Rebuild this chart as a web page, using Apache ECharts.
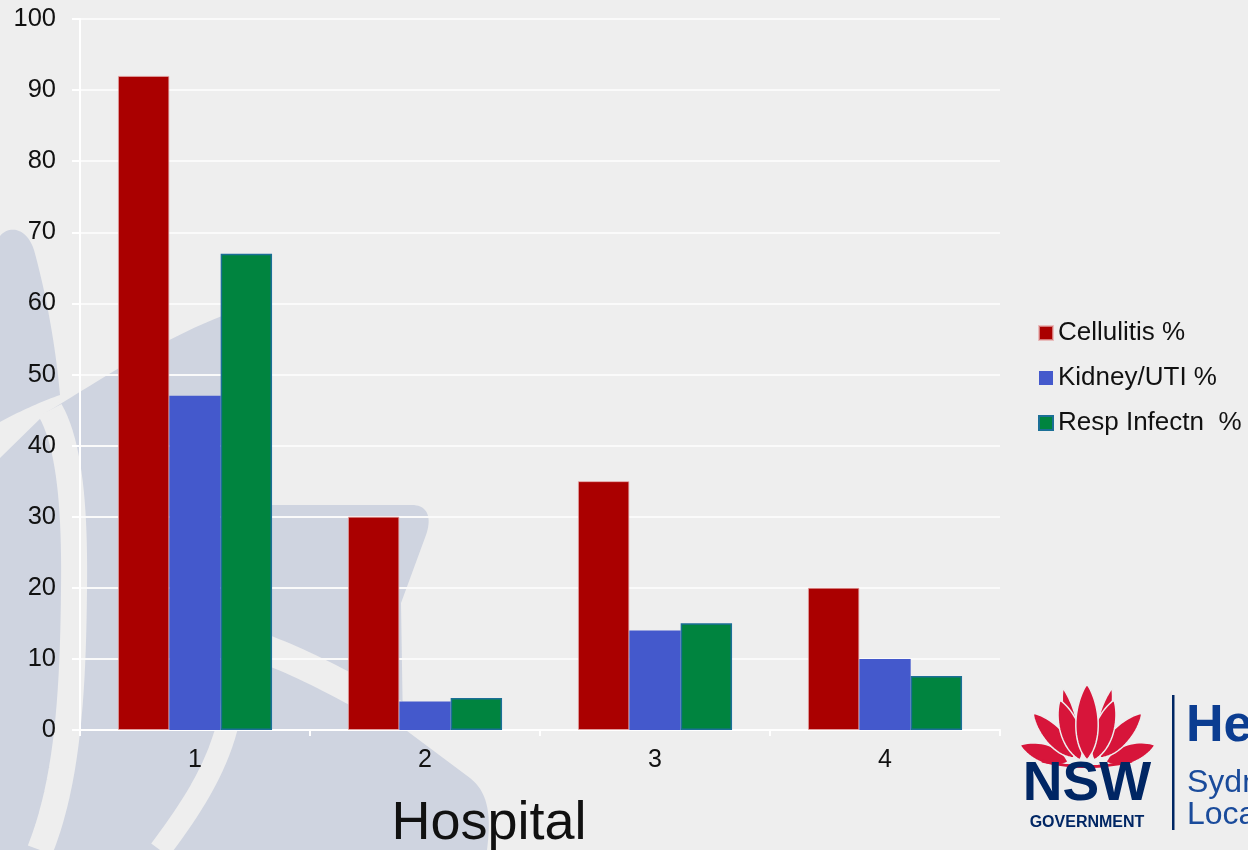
<!DOCTYPE html>
<html>
<head>
<meta charset="utf-8">
<title>Hospital admissions by infection type</title>
<script src="https://cdn.jsdelivr.net/npm/echarts@6/dist/echarts.min.js"></script>
<style>
  html, body { margin: 0; padding: 0; background: #eeeeee; }
  #chart { width: 1248px; height: 850px; }
</style>
</head>
<body>
<div id="chart"></div>
<script>
// Hospitals on the category axis
const hospitals = ['1', '2', '3', '4'];

// Share of admissions per infection type (%)
const cellulitisPct = [92, 30, 35, 20];
const kidneyUtiPct = [47, 4, 14, 10];
const respInfectnPct = [67, 4.5, 15, 7.6];

const seriesNames = ['Cellulitis %', 'Kidney/UTI %', 'Resp Infectn  %'];

const FONT = '"Liberation Sans", Arial, sans-serif';
const BG = '#eeeeee';
const WASH = '#cfd4e0';
const RED = '#d7153a';
const NAVY = '#002664';

// Turn a small SVG-like outline (M, L, Q, C, Z) into a list of points
function outline(d) {
  const tok = d.match(/[MLQCZ]|-?\d*\.?\d+/g);
  const pts = [];
  let i = 0, cmd = null, cx = 0, cy = 0;
  const num = () => parseFloat(tok[i++]);
  while (i < tok.length) {
    if (/[MLQCZ]/.test(tok[i])) cmd = tok[i++];
    if (cmd === 'Z') continue;
    if (cmd === 'M' || cmd === 'L') {
      cx = num(); cy = num(); pts.push([cx, cy]);
    } else if (cmd === 'Q') {
      const x1 = num(), y1 = num(), x = num(), y = num();
      for (let k = 1; k <= 16; k++) {
        const t = k / 16, u = 1 - t;
        pts.push([u * u * cx + 2 * u * t * x1 + t * t * x, u * u * cy + 2 * u * t * y1 + t * t * y]);
      }
      cx = x; cy = y;
    } else if (cmd === 'C') {
      const x1 = num(), y1 = num(), x2 = num(), y2 = num(), x = num(), y = num();
      for (let k = 1; k <= 20; k++) {
        const t = k / 20, u = 1 - t;
        pts.push([
          u * u * u * cx + 3 * u * u * t * x1 + 3 * u * t * t * x2 + t * t * t * x,
          u * u * u * cy + 3 * u * u * t * y1 + 3 * u * t * t * y2 + t * t * t * y
        ]);
      }
      cx = x; cy = y;
    }
  }
  return pts;
}

function fillShape(d, fill, z, stroke, lw) {
  return { type: 'polygon', z: z, silent: true, shape: { points: outline(d) },
    style: { fill: fill, stroke: stroke || null, lineWidth: lw || 0 } };
}
function strokeShape(d, color, lw, z) {
  return { type: 'polyline', z: z, silent: true, shape: { points: outline(d) },
    style: { fill: null, stroke: color, lineWidth: lw, lineCap: 'butt', lineJoin: 'round' } };
}

// Pointed petal outline between a base point and a tip
function petal(bx, by, tx, ty, w) {
  const dx = tx - bx, dy = ty - by;
  const len = Math.hypot(dx, dy);
  const nx = -dy / len, ny = dx / len;
  const p = (t, s) => (bx + dx * t + nx * s).toFixed(1) + ',' + (by + dy * t + ny * s).toFixed(1);
  return 'M' + bx + ',' + by +
    ' C' + p(0.25, w) + ' ' + p(0.75, w * 0.75) + ' ' + tx + ',' + ty +
    ' C' + p(0.75, -w * 0.75) + ' ' + p(0.25, -w) + ' ' + bx + ',' + by + ' Z';
}

// Soft background motif
const washShapes = [
  fillShape('M0,236 C8,226 26,226 34,250 C45,290 55,340 60,395 C40,402 18,412 0,422 Z', WASH, -20),
  fillShape('M0,458 L47,412 C100,380 160,340 222,316 L272,316 L272,505 L412,505 C428,505 432,518 426,535 L401,603 L403,728 L470,778 C492,795 490,825 487,850 L0,850 Z', WASH, -20),
  strokeShape('M50,410 C70,445 75,510 74,590 C73,690 68,780 40,850', BG, 26, -19),
  strokeShape('M232,700 C225,760 190,810 160,850', BG, 22, -19),
  strokeShape('M262,648 C300,662 340,682 402,718', BG, 29, -19)
];

// NSW Government / Health logo block
const petals = [
  [1068, 762, 1020, 745, 14],
  [1106, 762, 1155, 745, 14],
  [1074, 758, 1033, 713, 14],
  [1100, 758, 1142, 713, 14],
  [1078, 752, 1063, 688, 9],
  [1096, 752, 1112, 688, 9],
  [1080, 760, 1060, 700, 15],
  [1094, 760, 1114, 700, 15],
  [1087, 760, 1087, 684, 17]
];
const logo = petals.map(a => fillShape(petal(a[0], a[1], a[2], a[3], a[4]), RED, 50, BG, 1.5));
logo.push(
  strokeShape('M1042,761 Q1087,772 1132,761', RED, 3, 50),
  { type: 'text', z: 50, silent: true, x: 1087, y: 812,
    style: { text: 'NSW', font: 'bold 55px ' + FONT, fill: NAVY, align: 'center', verticalAlign: 'bottom' } },
  { type: 'text', z: 50, silent: true, x: 1087, y: 823,
    style: { text: 'GOVERNMENT', font: 'bold 16px ' + FONT, fill: NAVY, align: 'center', verticalAlign: 'middle' } },
  { type: 'rect', z: 50, silent: true,
    shape: { x: 1172, y: 695, width: 2.5, height: 135 },
    style: { fill: NAVY } },
  { type: 'text', z: 50, silent: true, x: 1186, y: 727,
    style: { text: 'Health', font: 'bold 52px ' + FONT, fill: '#0b3d91', align: 'left', verticalAlign: 'middle' } },
  { type: 'text', z: 50, silent: true, x: 1187, y: 783,
    style: { text: 'Sydney', font: '32px ' + FONT, fill: '#1a4b9b', align: 'left', verticalAlign: 'middle' } },
  { type: 'text', z: 50, silent: true, x: 1187, y: 815,
    style: { text: 'Local Health District', font: '32px ' + FONT, fill: '#1a4b9b', align: 'left', verticalAlign: 'middle' } }
);

const axisTitle = {
  type: 'text', z: 50, silent: true, x: 489, y: 824,
  style: { text: 'Hospital', font: '54px ' + FONT, fill: '#111111', align: 'center', verticalAlign: 'middle' }
};

const chart = echarts.init(document.getElementById('chart'), null, { renderer: 'canvas' });

chart.setOption({
  animation: false,
  backgroundColor: BG,
  textStyle: { fontFamily: FONT },
  grid: { left: 80, right: 248, top: 19, bottom: 120, containLabel: false },
  legend: {
    orient: 'vertical',
    left: 1033,
    top: 315,
    itemWidth: 14,
    itemHeight: 14,
    itemGap: 19,
    icon: 'rect',
    textStyle: { fontSize: 26, color: '#111111', fontFamily: FONT },
    data: seriesNames
  },
  xAxis: {
    type: 'category',
    data: hospitals,
    boundaryGap: true,
    axisLine: { show: true, lineStyle: { color: '#ffffff', width: 2 } },
    axisTick: { show: true, length: 6, lineStyle: { color: '#ffffff', width: 2 } },
    axisLabel: { fontSize: 25, color: '#111111', margin: 18, fontFamily: FONT },
    splitLine: { show: false }
  },
  yAxis: {
    type: 'value',
    min: 0,
    max: 100,
    interval: 10,
    axisLine: { show: true, lineStyle: { color: '#ffffff', width: 2 } },
    axisTick: { show: true, length: 8, lineStyle: { color: '#ffffff', width: 2 } },
    axisLabel: { fontSize: 25.5, color: '#111111', margin: 24, fontFamily: FONT, padding: [4, 0, 0, 0] },
    splitLine: { show: true, lineStyle: { color: '#fafafa', width: 2 } }
  },
  series: [
    { name: seriesNames[0], type: 'bar', data: cellulitisPct,
      barGap: '0%', barCategoryGap: '33%',
      itemStyle: { color: '#aa0000', borderColor: 'rgba(230,170,170,0.7)', borderWidth: 1 } },
    { name: seriesNames[1], type: 'bar', data: kidneyUtiPct,
      barGap: '0%', barCategoryGap: '33%',
      itemStyle: { color: '#4459cc' } },
    { name: seriesNames[2], type: 'bar', data: respInfectnPct,
      barGap: '0%', barCategoryGap: '33%',
      itemStyle: { color: '#00843f', borderColor: '#1b6f96', borderWidth: 1.5 } }
  ],
  graphic: washShapes.concat(logo, [axisTitle])
});
</script>
</body>
</html>
